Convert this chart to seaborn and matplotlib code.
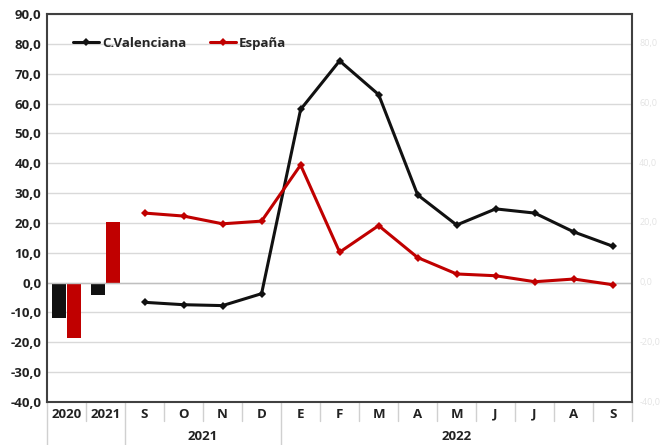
import matplotlib
matplotlib.use("Agg")
import numpy as np
import pandas as pd
import matplotlib.pyplot as plt
import seaborn as sns

# annual bars
years = ["2020", "2021"]
cv_annual = [-12.0, -4.0]
es_annual = [-18.5, 20.3]

# monthly lines (Sep 2021 - Sep 2022)
months = ["S", "O", "N", "D", "E", "F", "M", "A", "M", "J", "J", "A", "S"]
cv_monthly = [-6.6, -7.4, -7.7, -3.7, 58.0, 74.3, 63.0, 29.4, 19.3, 24.7, 23.3, 17.0, 12.2]
es_monthly = [23.3, 22.3, 19.7, 20.6, 39.4, 10.2, 19.1, 8.4, 2.9, 2.3, 0.3, 1.2, -0.7]

group_labels = ["2021", "2022"]
group_sizes = [4, 9]

series = ["C.Valenciana", "España"]
colors = {"C.Valenciana": "#111111", "España": "#c00000"}

sns.set_style("white")
plt.rcParams["font.family"] = ["Open Sans", "DejaVu Sans"]

fig = plt.figure(figsize=(6.62, 4.45), dpi=100)
ax = fig.add_axes([0.071, 0.0966, 0.884, 0.872])

bars = pd.DataFrame({
    "year": years * 2,
    "value": cv_annual + es_annual,
    "serie": [series[0]] * 2 + [series[1]] * 2,
})
sns.barplot(data=bars, x="year", y="value", hue="serie", palette=colors,
            width=0.76, gap=0.05, linewidth=0, ax=ax, legend=False, saturation=1)

n_annual = len(years)
lines = pd.DataFrame({
    "pos": list(np.arange(len(months)) + n_annual) * 2,
    "value": cv_monthly + es_monthly,
    "serie": [series[0]] * len(months) + [series[1]] * len(months),
})
for s in series:
    d = lines[lines["serie"] == s]
    sns.lineplot(data=d, x="pos", y="value", color=colors[s], lw=2.2,
                 marker="D", markersize=4, markeredgewidth=0, ax=ax, label=s)

ncat = n_annual + len(months)
ax.set_xlim(-0.5, ncat - 0.5)
ax.set_ylim(-40, 90)
ax.set_yticks(np.arange(-40, 91, 10))
ax.set_yticklabels([f"{v:.1f}".replace(".", ",") for v in np.arange(-40, 91, 10)],
                   fontsize=9.5, fontweight="bold", color="#222222")
ax.yaxis.grid(True, color="#d9d9d9", lw=1)
ax.set_axisbelow(True)
ax.axhline(0, color="#bfbfbf", lw=1, zorder=1)
ax.tick_params(axis="y", length=0, pad=4)
ax.set_xlabel("")
ax.set_ylabel("")

# category labels
ax.set_xticks(range(ncat))
ax.set_xticklabels(years + months, fontsize=9.5, fontweight="bold", color="#222222")
ax.tick_params(axis="x", length=0, pad=4)

for sp in ax.spines.values():
    sp.set_color("#404040")
    sp.set_linewidth(1.5)

trans = ax.get_xaxis_transform()
# separators between categories
for i in range(ncat + 1):
    x = i - 0.5
    ymin = -0.12 if i in (0, n_annual, n_annual + group_sizes[0]) else -0.05
    ax.plot([x, x], [0, ymin], transform=trans, color="#d0d0d0", lw=1, clip_on=False)

# group labels
start = n_annual
for lab, size in zip(group_labels, group_sizes):
    ax.text(start + (size - 1) / 2, -0.088, lab, transform=trans, ha="center", va="center",
            fontsize=9.5, fontweight="bold", color="#222222")
    start += size

# faint secondary axis labels
for v in range(-40, 81, 20):
    ax.text(1.012, (v + 40) / 130, f"{v:.1f}".replace(".", ","), transform=ax.transAxes,
            ha="left", va="center", fontsize=6.5, color="#e3e3e3")

leg = ax.legend(loc="upper left", bbox_to_anchor=(0.035, 0.955), ncol=2, frameon=False,
                prop={"weight": "bold", "size": 9.5}, handlelength=2.0, columnspacing=1.8,
                handletextpad=0.2, borderaxespad=0)

fig.savefig("out.png", dpi=100)
